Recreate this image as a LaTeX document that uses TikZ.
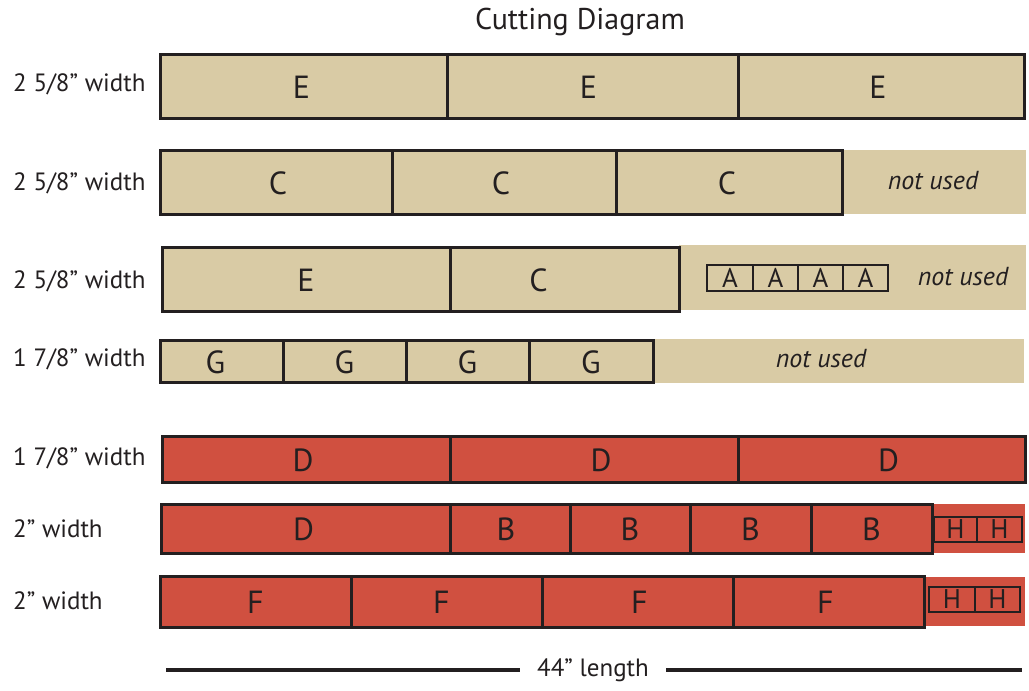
\documentclass[tikz,border=0pt]{standalone}
\usepackage{fontspec}
\setmainfont{PT Sans}
\usetikzlibrary{fit}
\definecolor{beige}{RGB}{217,203,165}
\definecolor{brick}{RGB}{208,80,64}
\definecolor{ink}{RGB}{35,31,32}
\begin{document}
\begin{tikzpicture}[x=1pt,y=-1pt,
  every node/.style={text=ink},
  lab/.style={text=ink, inner sep=0pt, yshift=-1pt, font=\fontsize{32}{32}\selectfont},
  slab/.style={text=ink, inner sep=0pt, font=\fontsize{27}{27}\selectfont},
  piece/.style={draw=ink, line width=3pt, inner sep=0pt, outer sep=0pt},
  small/.style={draw=ink, line width=2.5pt, inner sep=0pt, outer sep=0pt,
    label={[slab]center:#1}},
  strip/.style={inner sep=0pt, outer sep=0pt},
  lbl/.style={anchor=west, inner sep=0pt, font=\fontsize{25}{25}\selectfont},
  nu/.style={inner sep=0pt, font=\fontsize{26}{26}\selectfont\itshape},
  tan/.style={fill=beige},
  red/.style={fill=brick}]
\useasboundingbox (0,0) rectangle (1029,691);

\node[inner sep=0pt, font=\fontsize{30}{30}\selectfont] (title) at (580,22) {Cutting Diagram};

% labels
\node[lbl] (l1) at (13,84) {2 5/8” width};
\node[lbl] (l2) at (13,183) {2 5/8” width};
\node[lbl] (l3) at (13,281) {2 5/8” width};
\node[lbl] (l4) at (13,359) {1 7/8” width};
\node[lbl] (l5) at (13,458) {1 7/8” width};
\node[lbl] (l6) at (13,529) {2” width};
\node[lbl] (l7) at (13,601) {2” width};

% background strips
\node[strip, tan, fit={(842,150) (1026,214)}] (s2) {};
\node[strip, tan, fit={(679,245) (1026,310)}] (s3) {};
\node[strip, tan, fit={(653,339) (1024,383)}] (s4) {};
\node[strip, red, fit={(932,504) (1025,553)}] (s6) {};
\node[strip, red, fit={(924,577) (1025,626)}] (s7) {};

% row 1
\node[piece, tan, fit={(160,54) (447,118)}, label={[lab, xshift=-2pt]center:E}] (r1a) {};
\node[piece, tan, fit={(447,54) (738,118)}, label={[lab, xshift=-4pt]center:E}] (r1b) {};
\node[piece, tan, fit={(738,54) (1024,118)}, label={[lab, xshift=-3pt]center:E}] (r1c) {};
% row 2
\node[piece, tan, fit={(160,150) (392,214)}, label={[lab, xshift=2pt]center:C}] (r2a) {};
\node[piece, tan, fit={(392,150) (616,214)}, label={[lab, xshift=-3pt]center:C}] (r2b) {};
\node[piece, tan, fit={(616,150) (842,214)}, label={[lab, xshift=-2pt]center:C}] (r2c) {};
\node[nu] (nu2) at (933,181) {not used};
% row 3
\node[piece, tan, fit={(162,247) (450,311)}, label={[lab]center:E}] (r3a) {};
\node[piece, tan, fit={(450,247) (679,311)}, label={[lab, xshift=-26pt]center:C}] (r3b) {};
\node[small=A, tan, fit={(707,265) (753,291)}] (a1) {};
\node[small=A, tan, fit={(753,265) (798,291)}] (a2) {};
\node[small=A, tan, fit={(798,265) (843,291)}] (a3) {};
\node[small=A, tan, fit={(843,265) (888,291)}] (a4) {};
\node[nu] (nu3) at (963,277) {not used};
% row 4
\node[piece, tan, fit={(160,340) (283,382)}, label={[lab, xshift=-6pt]center:G}] (r4a) {};
\node[piece, tan, fit={(283,340) (406,382)}, label={[lab]center:G}] (r4b) {};
\node[piece, tan, fit={(406,340) (529,382)}, label={[lab]center:G}] (r4c) {};
\node[piece, tan, fit={(529,340) (653,382)}, label={[lab]center:G}] (r4d) {};
\node[nu] (nu4) at (821,359) {not used};
% row 5
\node[piece, red, fit={(162,436) (450,482)}, label={[lab, xshift=-3pt]center:D}] (r5a) {};
\node[piece, red, fit={(450,436) (738,482)}, label={[lab, xshift=7pt]center:D}] (r5b) {};
\node[piece, red, fit={(738,436) (1025,482)}, label={[lab, xshift=7pt]center:D}] (r5c) {};
% row 6
\node[piece, red, fit={(161,504) (450,553)}, label={[lab, xshift=-2pt]center:D}] (r6a) {};
\node[piece, red, fit={(450,504) (570,553)}, label={[lab, xshift=-4pt]center:B}] (r6b) {};
\node[piece, red, fit={(570,504) (690,553)}, label={[lab]center:B}] (r6c) {};
\node[piece, red, fit={(690,504) (811,553)}, label={[lab]center:B}] (r6d) {};
\node[piece, red, fit={(811,504) (932,553)}, label={[lab]center:B}] (r6e) {};
\node[small=H, red, fit={(934,517) (977,542)}] (h1) {};
\node[small=H, red, fit={(977,517) (1022,542)}] (h2) {};
% row 7
\node[piece, red, fit={(160,576) (351,627)}, label={[lab]center:F}] (r7a) {};
\node[piece, red, fit={(351,576) (542,627)}, label={[lab, xshift=-5pt]center:F}] (r7b) {};
\node[piece, red, fit={(542,576) (733,627)}, label={[lab, xshift=2pt]center:F}] (r7c) {};
\node[piece, red, fit={(733,576) (924,627)}, label={[lab, xshift=-3pt]center:F}] (r7d) {};
\node[small=H, red, fit={(929,587) (975,612)}] (h3) {};
\node[small=H, red, fit={(975,587) (1020,612)}] (h4) {};

% length line
\node[inner ysep=0pt, inner xsep=17pt, font=\fontsize{25}{25}\selectfont] (len) at (593,670) {44” length};
\coordinate (ll) at (166,670);
\coordinate (lr) at (1022,670);
\draw[ink, line width=4.5pt] (ll) -- (len.west);
\draw[ink, line width=4.5pt] (len.east) -- (lr);
\end{tikzpicture}
\end{document}
